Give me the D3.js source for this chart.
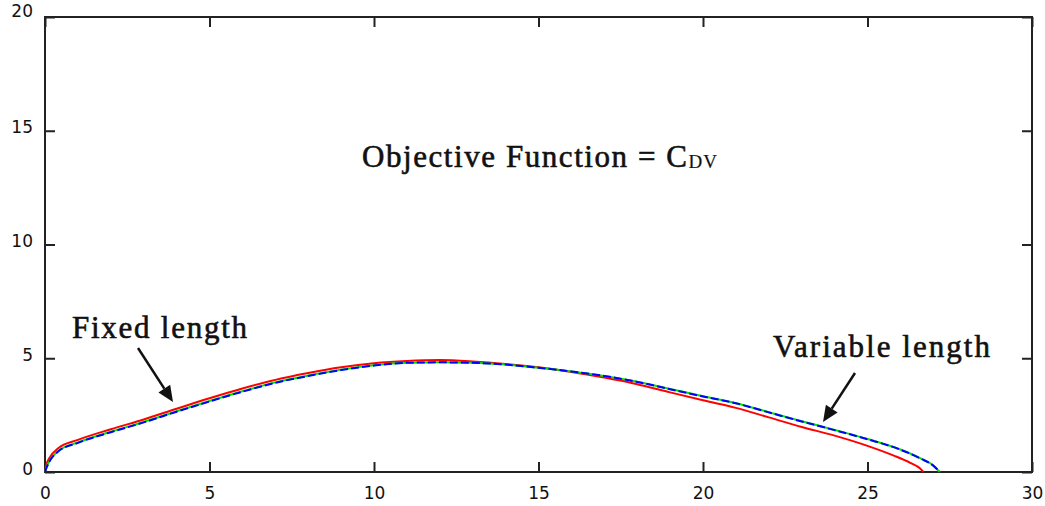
<!DOCTYPE html>
<html>
<head>
<meta charset="utf-8">
<script src="https://cdn.jsdelivr.net/npm/d3@7"></script>
<style>
  body { margin: 0; background: #fff; }
  svg { display: block; }
  .tick text { font-family: "DejaVu Sans", sans-serif; font-size: 17px; fill: #111; }
  .note { font-family: "Liberation Serif", "Times New Roman", serif; font-size: 31px; fill: #111; stroke: #111; stroke-width: 0.6px; }
</style>
</head>
<body>
<div id="chart"></div>
<script>
// values
const xTicks = [0, 5, 10, 15, 20, 25, 30]
const yTicks = [0, 5, 10, 15, 20]

// fixed length (red)
const redX = [0, 0.05, 0.15, 0.4, 1, 2, 3, 4, 5, 6, 7, 8, 9, 10, 11, 12, 13, 14, 15, 16, 17, 18, 19, 20, 21, 22, 23, 24, 25, 25.8, 26.3, 26.6, 26.7]
const redY = [0, 0.35, 0.65, 1.04, 1.41, 1.88, 2.31, 2.78, 3.24, 3.67, 4.05, 4.35, 4.6, 4.78, 4.88, 4.92, 4.86, 4.75, 4.6, 4.4, 4.15, 3.86, 3.5, 3.15, 2.82, 2.4, 1.98, 1.6, 1.15, 0.72, 0.4, 0.15, 0]

// variable length (green + blue, nearly on top of each other)
const greenX = [0, 0.05, 0.15, 0.4, 1, 2, 3, 4, 5, 6, 7, 8, 9, 10, 11, 12, 13, 14, 15, 16, 17, 18, 19, 20, 21, 22, 23, 24, 25, 26, 26.6, 27.0, 27.2]
const greenY = [0, 0.22, 0.52, 0.92, 1.3, 1.77, 2.2, 2.67, 3.12, 3.55, 3.94, 4.24, 4.5, 4.69, 4.8, 4.82, 4.8, 4.72, 4.58, 4.42, 4.22, 3.97, 3.65, 3.33, 3.02, 2.63, 2.23, 1.85, 1.45, 0.99, 0.61, 0.29, 0]
const blueX = [0, 0.05, 0.15, 0.4, 1, 2, 3, 4, 5, 6, 7, 8, 9, 10, 11, 12, 13, 14, 15, 16, 17, 18, 19, 20, 21, 22, 23, 24, 25, 26, 26.6, 27.0, 27.2]
const blueY = [0, 0.2, 0.5, 0.9, 1.28, 1.75, 2.18, 2.65, 3.1, 3.53, 3.92, 4.22, 4.48, 4.68, 4.8, 4.82, 4.8, 4.72, 4.58, 4.42, 4.22, 3.96, 3.64, 3.32, 3.02, 2.62, 2.22, 1.84, 1.44, 0.98, 0.6, 0.28, 0]

const W = 1045, H = 506
const margin = { top: 17, right: 13, bottom: 34, left: 45 }

const svg = d3.select('#chart').append('svg')
  .attr('width', W).attr('height', H)

const x = d3.scaleLinear().domain([0, 30]).range([margin.left, W - margin.right])
const y = d3.scaleLinear().domain([0, 20]).range([H - margin.bottom, margin.top])

// inner ticks on all four sides, labels only on bottom / left
const tickLen = 10
svg.append('g')
  .attr('transform', `translate(0,${y(0)})`)
  .call(d3.axisBottom(x).tickValues(xTicks).tickSizeInner(-tickLen).tickSizeOuter(0).tickPadding(15))
const yAxis = svg.append('g')
  .attr('transform', `translate(${x(0)},0)`)
  .call(d3.axisLeft(y).tickValues(yTicks).tickSizeInner(-tickLen).tickSizeOuter(0).tickPadding(12))
svg.append('g')
  .attr('transform', `translate(0,${y(20)})`)
  .call(d3.axisTop(x).tickValues(xTicks).tickSizeInner(-tickLen).tickSizeOuter(0).tickFormat(''))
svg.append('g')
  .attr('transform', `translate(${x(30)},0)`)
  .call(d3.axisRight(y).tickValues(yTicks).tickSizeInner(-tickLen).tickSizeOuter(0).tickFormat(''))

svg.selectAll('.domain').remove()
svg.selectAll('.tick line').attr('stroke', '#222').attr('stroke-width', 2)
// y labels sit a little above their ticks, the top one a bit more
yAxis.selectAll('.tick text').attr('dy', d => d === 20 ? '-0.05em' : '0.12em')

// frame
svg.append('rect')
  .attr('x', x(0)).attr('y', y(20))
  .attr('width', x(30) - x(0)).attr('height', y(0) - y(20))
  .attr('fill', 'none').attr('stroke', '#222').attr('stroke-width', 2)

const line = d3.line()
  .x(d => x(d[0])).y(d => y(d[1]))
  .curve(d3.curveMonotoneX)

function drawSeries(xs, ys, color, dash) {
  svg.append('path')
    .datum(d3.zip(xs, ys))
    .attr('d', line)
    .attr('fill', 'none')
    .attr('stroke', color)
    .attr('stroke-width', 2)
    .attr('stroke-dasharray', dash)
}

drawSeries(redX, redY, '#ff0000', null)
drawSeries(greenX, greenY, '#00e000', null)
drawSeries(blueX, blueY, '#0000ff', '8,3')

// annotations
function arrow(x1, y1, x2, y2) {
  const ang = Math.atan2(y2 - y1, x2 - x1)
  const len = 16, half = 7
  const bx = x2 - len * Math.cos(ang), by = y2 - len * Math.sin(ang)
  svg.append('line')
    .attr('x1', x1).attr('y1', y1).attr('x2', bx).attr('y2', by)
    .attr('stroke', '#111').attr('stroke-width', 2.5)
  svg.append('path')
    .attr('d', `M${x2},${y2}L${bx - half * Math.sin(ang)},${by + half * Math.cos(ang)}L${bx + half * Math.sin(ang)},${by - half * Math.cos(ang)}Z`)
    .attr('fill', '#111')
}

svg.append('text').attr('class', 'note')
  .attr('x', 72).attr('y', 338)
  .attr('textLength', 175).attr('lengthAdjust', 'spacing')
  .text('Fixed length')
arrow(138, 348, 173, 402)

svg.append('text').attr('class', 'note')
  .attr('x', 773).attr('y', 357)
  .attr('textLength', 217).attr('lengthAdjust', 'spacing')
  .text('Variable length')
arrow(855, 373, 823, 422)

const title = svg.append('text').attr('class', 'note')
  .attr('x', 362).attr('y', 167)
title.append('tspan')
  .attr('textLength', 325).attr('lengthAdjust', 'spacing')
  .text('Objective Function = C')
title.append('tspan').attr('dy', 1).attr('font-size', 19).attr('stroke-width', 0.2)
  .attr('letter-spacing', 1).text('DV')
</script>
</body>
</html>
